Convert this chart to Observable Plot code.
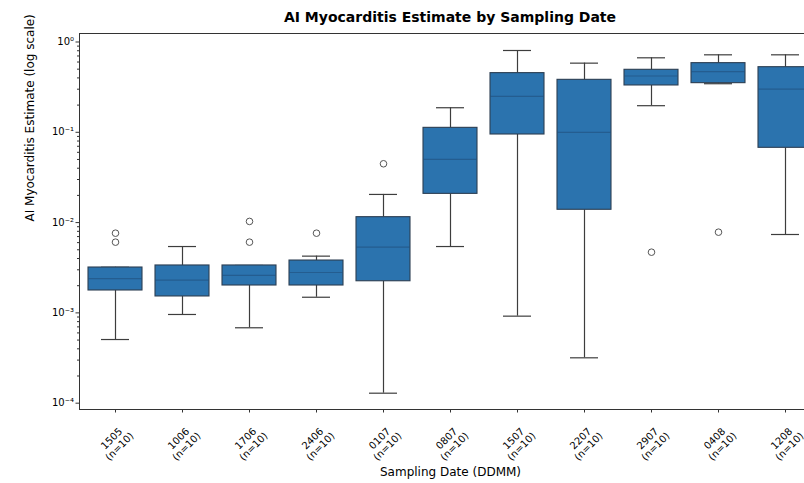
<!DOCTYPE html>
<html><head><meta charset="utf-8">
<script src="https://cdn.jsdelivr.net/npm/d3@7"></script>
<script src="https://cdn.jsdelivr.net/npm/@observablehq/plot@0.6"></script>
<style>
html,body{margin:0;padding:0;overflow:hidden;background:#fff;}
#title{font:bold 14px "DejaVu Sans";width:742px;margin-left:79px;text-align:center;height:28px;line-height:34px;color:#000;white-space:nowrap;}
#chart{width:850px;}
#chart svg{display:block;max-width:none !important;}
</style></head><body>
<div id="title">AI Myocarditis Estimate by Sampling Date</div>
<div id="chart"></div>
<script>
// Categories
const dates = ["1505","1006","1706","2406","0107","0807","1507","2207","2907","0408","1208"];
const counts = [10,10,10,10,10,10,10,10,10,10,10];
// Box summaries
const q1 = [0.00177,0.00152,0.00201,0.00201,0.00224,0.0208,0.0945,0.01386,0.33,0.35,0.0673];
const q3 = [0.00318,0.00335,0.00335,0.0038,0.01148,0.112,0.452,0.381,0.492,0.583,0.526];
const med = [0.0024,0.0023,0.0026,0.0028,0.00534,0.05,0.25,0.1,0.42,0.47,0.3];
const whiskerLow = [0.000507,0.00096,0.000684,0.00149,0.000129,0.00543,0.00092,0.000318,0.197,0.345,0.00738];
const whiskerHigh = [0.0032,0.00543,0.00335,0.00425,0.0205,0.187,0.805,0.583,0.668,0.721,0.721];
// Outliers
const outlierDates = ["1505","1505","1706","1706","2406","0107","2907","0408"];
const outlierValues = [0.00763,0.00607,0.0103,0.00607,0.00763,0.0448,0.0047,0.00783];
// Axis ticks
const yMajor = [1e-4,1e-3,1e-2,1e-1,1];
const minorMult = [2,3,4,5,6,7,8,9];

const yMinor = [];
yMajor.slice(0,4).forEach(d => minorMult.forEach(m => yMinor.push(d*m)));

const supMap = {"-":"⁻","0":"⁰","1":"¹","2":"²","3":"³","4":"⁴","5":"⁵","6":"⁶","7":"⁷","8":"⁸","9":"⁹"};
const sup = d => "10" + String(Math.round(Math.log10(d))).split("").map(c => supMap[c]).join("");

const rows = dates.map((d,i)=>({date:d, label:`${d}\n(n=${counts[i]})`, q1:q1[i], q3:q3[i], med:med[i], lo:whiskerLow[i], hi:whiskerHigh[i]}));
const outlierRows = outlierDates.map((d,i)=>({date:d, value:outlierValues[i]}));

const stroke = "#3d3d3d";
const chart = Plot.plot({
  width: 850, height: 455,
  marginLeft: 79, marginRight: 29, marginTop: 5, marginBottom: 74,
  style: {fontFamily: "DejaVu Sans", fontSize: "10px", color: "#000", background: "#fff", overflow: "visible", maxWidth: "none"},
  x: {type: "band", domain: dates, paddingInner: 0.2, paddingOuter: 0.1, axis: null},
  y: {type: "log", domain: [Math.pow(10,-4.07), Math.pow(10,0.094)], axis: null, label: null},
  marks: [
    Plot.ruleX(rows, {x: "date", y1: "lo", y2: "q1", stroke, strokeWidth: 1.2}),
    Plot.ruleX(rows, {x: "date", y1: "q3", y2: "hi", stroke, strokeWidth: 1.2}),
    Plot.tickY(rows, {x: "date", y: "lo", insetLeft: 13, insetRight: 13, stroke, strokeWidth: 1.2}),
    Plot.tickY(rows, {x: "date", y: "hi", insetLeft: 13, insetRight: 13, stroke, strokeWidth: 1.2}),
    Plot.barY(rows, {x: "date", y1: "q1", y2: "q3", fill: "#2b73ae", stroke: "#2c3e52", strokeWidth: 1.1}),
    Plot.tickY(rows, {x: "date", y: "med", stroke: "#1f4f7c", strokeWidth: 1.2, strokeOpacity: 0.6}),
    Plot.dot(outlierRows, {x: "date", y: "value", r: 3.3, stroke: "#555", strokeWidth: 1, fill: "none"}),
    Plot.frame({stroke: "#333", strokeWidth: 1}),
    Plot.axisY({ticks: yMajor, tickFormat: sup, tickSize: 3.5, tickPadding: 2, fontSize: 10, label: null, stroke: "#333"}),
    Plot.axisY({ticks: yMinor, tickFormat: () => "", tickSize: 2, label: null, stroke: "#333"}),
    Plot.axisX({tickSize: 3.5, tickFormat: () => "", label: null, stroke: "#333"}),
    Plot.text(rows, {x: "date", text: "label", frameAnchor: "bottom", dy: 33, rotate: -45, fontSize: 10, lineAnchor: "middle", textAnchor: "middle", lineHeight: 1.1}),
    Plot.text(["AI Myocarditis Estimate (log scale)"], {text: d => d, frameAnchor: "left", dx: -49, rotate: -90, fontSize: 12}),
    Plot.text(["Sampling Date (DDMM)"], {text: d => d, frameAnchor: "bottom", dy: 66, fontSize: 12})
  ]
});
document.getElementById("chart").appendChild(chart);
</script>
</body></html>
